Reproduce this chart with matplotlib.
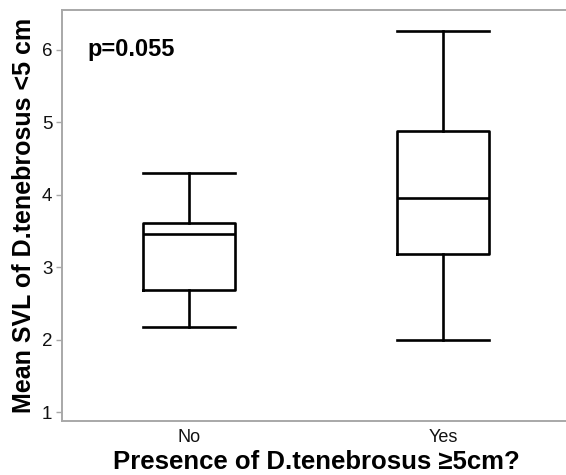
import matplotlib
matplotlib.use("Agg")
import matplotlib.pyplot as plt

plt.rcParams['font.family'] = ['Liberation Sans', 'DejaVu Sans']

# box plot summary values
groups = ["No", "Yes"]
whis_low = [2.18, 2.00]
q1 = [2.68, 3.18]
medians = [3.46, 3.96]
q3 = [3.61, 4.88]
whis_high = [4.30, 6.26]

stats = []
for g, lo, a, m, b, hi in zip(groups, whis_low, q1, medians, q3, whis_high):
    stats.append({"label": g, "whislo": lo, "q1": a, "med": m, "q3": b,
                  "whishi": hi, "fliers": []})

fig = plt.figure(figsize=(5.66, 4.75), dpi=100)
ax = fig.add_axes([62/566, 54/475, 508/566, 411/475])

lw = 1.9
ax.bxp(stats, positions=[1, 2], widths=0.36, capwidths=0.36, showfliers=False,
       boxprops=dict(color="black", linewidth=lw),
       whiskerprops=dict(color="black", linewidth=lw),
       capprops=dict(color="black", linewidth=lw),
       medianprops=dict(color="black", linewidth=lw))

ax.set_xlim(0.5, 2.5)
ax.set_ylim(0.876, 6.55)
ax.set_yticks([1, 2, 3, 4, 5, 6])
ax.set_xticks([1, 2])
ax.set_xticklabels(groups)

for s in ax.spines.values():
    s.set_color("#a8a8a8")
    s.set_linewidth(1.4)

ax.tick_params(axis="y", colors="#a8a8a8", labelcolor="#111111", length=4,
               width=1, labelsize=13.5, pad=3)
ax.tick_params(axis="x", length=0, labelsize=13, pad=6, labelcolor="#111111")

ax.set_ylabel("Mean SVL of D.tenebrosus <5 cm", fontsize=18, fontweight="bold", labelpad=4)
ax.set_xlabel("Presence of D.tenebrosus \u22655cm?", fontsize=18.5, fontweight="bold", labelpad=2.5)

ax.text(0.6, 6.0, "p=0.055", fontsize=17, fontweight="bold", va="center", ha="left")

fig.savefig("out.png", dpi=100)
